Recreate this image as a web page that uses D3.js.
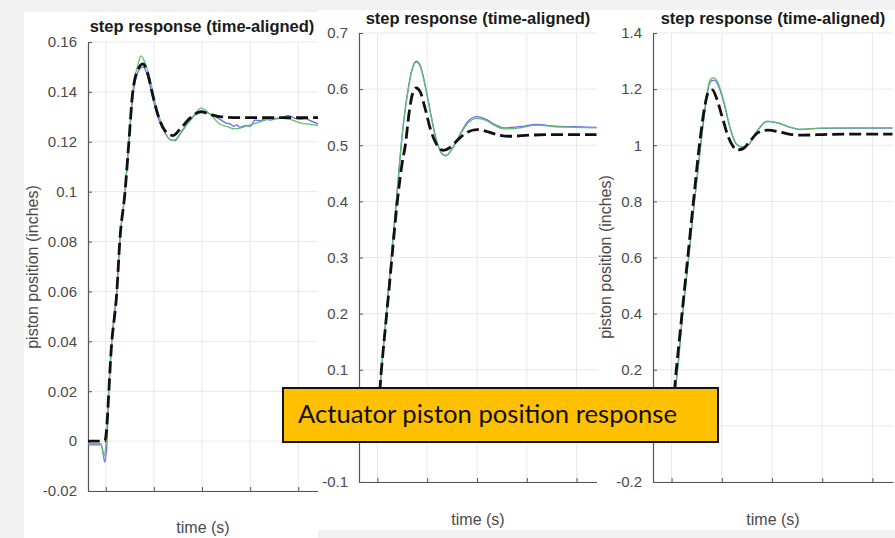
<!DOCTYPE html>
<html><head><meta charset="utf-8">
<script src="https://cdn.jsdelivr.net/npm/d3@7"></script>
<style>html,body{margin:0;padding:0;background:#f1f1f1;}svg{display:block;}</style>
</head><body>
<svg id="c" width="895" height="538"></svg>
<script>
// ---------- data ----------
const chartTitle = "step response (time-aligned)";
const xLabel = "time (s)";
const yLabel = "piston position (inches)";
const noteText = "Actuator piston position response";
const xTicks = [1, 2, 3, 4, 5];
const xTickLabels = ["", "", "", "", ""];
const xDomain = [0.63, 5.41];

const p1YTicks = [-0.02, 0, 0.02, 0.04, 0.06, 0.08, 0.1, 0.12, 0.14, 0.16];
const p1YTickLabels = ["-0.02", "0", "0.02", "0.04", "0.06", "0.08", "0.1", "0.12", "0.14", "0.16"];
const p2YTicks = [-0.1, 0, 0.1, 0.2, 0.3, 0.4, 0.5, 0.6, 0.7];
// the "0" label is hidden under the note box in the reference
const p2YTickLabels = ["-0.1", "", "0.1", "0.2", "0.3", "0.4", "0.5", "0.6", "0.7"];
const p3YTicks = [-0.2, 0, 0.2, 0.4, 0.6, 0.8, 1, 1.2, 1.4];
const p3YTickLabels = ["-0.2", "", "0.2", "0.4", "0.6", "0.8", "1", "1.2", "1.4"];

// [time, position]
const p1Blue = [[0.625,-0.0015],[0.90,-0.0015],[0.94,-0.004],[0.975,-0.0084],[1.02,-0.002],[1.06,0.02],[1.125,0.04],[1.17,0.05],[1.23,0.06],[1.29,0.08],[1.40,0.10],[1.48,0.12],[1.56,0.138],[1.67,0.148],[1.77,0.150],[1.875,0.146],[1.96,0.139],[2.08,0.130],[2.23,0.1235],[2.33,0.121],[2.44,0.1205],[2.54,0.123],[2.75,0.1285],[2.98,0.1325],[3.17,0.131],[3.40,0.1287],[3.50,0.1275],[3.58,0.1272],[3.66,0.1262],[3.72,0.1268],[3.79,0.1258],[3.90,0.1265],[4.0,0.1262],[4.10,0.1287],[4.21,0.1285],[4.31,0.1292],[4.42,0.1287],[4.52,0.1292],[4.65,0.1295],[4.79,0.1305],[4.92,0.1295],[5.04,0.129],[5.15,0.1292],[5.25,0.1285],[5.42,0.127]];
const p1Green = [[0.625,-0.001],[0.90,-0.001],[0.96,-0.006],[1.0,-0.002],[1.06,0.02],[1.125,0.04],[1.23,0.06],[1.29,0.08],[1.40,0.10],[1.48,0.12],[1.56,0.14],[1.67,0.151],[1.73,0.1544],[1.81,0.152],[1.92,0.145],[2.02,0.136],[2.125,0.129],[2.25,0.123],[2.375,0.1205],[2.46,0.121],[2.58,0.1245],[2.75,0.1285],[2.98,0.1335],[3.17,0.131],[3.375,0.127],[3.54,0.126],[3.66,0.1252],[3.79,0.1255],[3.96,0.1265],[4.21,0.128],[4.52,0.1295],[4.83,0.129],[5.06,0.1275],[5.25,0.127],[5.42,0.1265]];
const p1Black = [[0.625,0],[0.94,0],[0.98,0],[1.125,0.04],[1.23,0.06],[1.29,0.08],[1.40,0.10],[1.48,0.12],[1.56,0.14],[1.67,0.149],[1.77,0.1512],[1.875,0.147],[1.96,0.140],[2.08,0.131],[2.23,0.1245],[2.40,0.1225],[2.54,0.125],[2.75,0.1295],[2.98,0.132],[3.17,0.131],[3.40,0.130],[3.79,0.1297],[5.42,0.1297]];

const p2Blue = [[0.64,0],[0.98,0],[1.0,0.01],[1.10,0.12],[1.26,0.28],[1.38,0.40],[1.50,0.52],[1.62,0.602],[1.70,0.637],[1.78,0.650],[1.86,0.642],[1.96,0.607],[2.06,0.561],[2.18,0.511],[2.30,0.485],[2.38,0.482],[2.50,0.494],[2.66,0.520],[2.82,0.543],[3.00,0.551],[3.16,0.547],[3.36,0.537],[3.56,0.531],[3.86,0.533],[4.20,0.537],[4.56,0.534],[4.96,0.533],[5.40,0.532]];
const p2Green = [[0.64,0],[0.98,0],[1.0,0.01],[1.10,0.12],[1.26,0.28],[1.38,0.40],[1.50,0.52],[1.62,0.60],[1.70,0.635],[1.78,0.648],[1.86,0.64],[1.96,0.605],[2.06,0.56],[2.18,0.51],[2.30,0.484],[2.38,0.481],[2.50,0.493],[2.66,0.518],[2.82,0.540],[3.00,0.548],[3.16,0.545],[3.36,0.535],[3.56,0.529],[3.86,0.531],[4.20,0.536],[4.56,0.533],[4.96,0.532],[5.40,0.531]];
const p2Black = [[0.64,0],[0.96,0],[0.98,0],[1.08,0.10],[1.24,0.25],[1.40,0.40],[1.50,0.47],[1.56,0.50],[1.64,0.56],[1.70,0.59],[1.78,0.602],[1.86,0.595],[1.96,0.565],[2.06,0.53],[2.18,0.503],[2.32,0.491],[2.46,0.496],[2.62,0.510],[2.78,0.522],[3.00,0.528],[3.22,0.524],[3.44,0.518],[3.66,0.516],[4.06,0.518],[4.66,0.519],[5.40,0.519]];

const p3Blue = [[0.644,0],[0.98,0],[1.02,0.05],[1.12,0.2],[1.22,0.4],[1.34,0.6],[1.455,0.8],[1.58,1.0],[1.70,1.17],[1.75,1.217],[1.80,1.230],[1.85,1.232],[1.93,1.213],[2.05,1.145],[2.17,1.058],[2.29,1.004],[2.41,0.993],[2.525,1.00],[2.68,1.044],[2.90,1.084],[3.12,1.079],[3.36,1.064],[3.55,1.056],[3.95,1.060],[4.55,1.061],[5.40,1.061]];
const p3Green = [[0.644,0],[0.98,0],[1.02,0.05],[1.12,0.2],[1.22,0.4],[1.34,0.6],[1.455,0.8],[1.58,1.0],[1.70,1.18],[1.75,1.225],[1.80,1.238],[1.85,1.240],[1.93,1.22],[2.05,1.15],[2.17,1.06],[2.29,1.005],[2.41,0.994],[2.525,1.00],[2.68,1.045],[2.90,1.086],[3.12,1.08],[3.36,1.065],[3.55,1.057],[3.95,1.061],[4.55,1.062],[5.40,1.062]];
const p3Black = [[0.644,0],[0.96,0],[0.98,0],[1.094,0.2],[1.208,0.4],[1.322,0.6],[1.436,0.8],[1.554,1.0],[1.673,1.15],[1.733,1.19],[1.812,1.197],[1.891,1.17],[2.01,1.10],[2.129,1.03],[2.228,0.995],[2.307,0.983],[2.426,0.988],[2.564,1.015],[2.723,1.045],[2.921,1.054],[3.158,1.047],[3.396,1.038],[3.614,1.036],[4.149,1.039],[5.40,1.04]];

// ---------- layout ----------
const svg = d3.select("#c");
const FONT = "'Liberation Sans', Arial, Helvetica, sans-serif";
const COL_BLUE = "#6a6af5", COL_GREEN = "#62bd6a";

const panels = [
  {bg:[24,12,294,526], left:88, right:318, top:42, bottom:491, yDomain:[-0.02,0.16], yTicks:p1YTicks, yLabels:p1YTickLabels,
   series:[p1Blue,p1Green,p1Black], titleY:32, xLabY:533, yLabX:38, yLabY:267, showYLab:true},
  {bg:[318,10,279,520], left:359, right:597, top:33, bottom:482, yDomain:[-0.1,0.7], yTicks:p2YTicks, yLabels:p2YTickLabels,
   series:[p2Blue,p2Green,p2Black], titleY:24, xLabY:525, showYLab:false},
  {bg:[597,10,298,520], left:653, right:893, top:33, bottom:482, yDomain:[-0.2,1.4], yTicks:p3YTicks, yLabels:p3YTickLabels,
   series:[p3Blue,p3Green,p3Black], titleY:24, xLabY:525, yLabX:611, yLabY:257, showYLab:true}
];

panels.forEach((p, i) => {
  const g = svg.append("g");
  g.append("rect").attr("x", p.bg[0]).attr("y", p.bg[1]).attr("width", p.bg[2]).attr("height", p.bg[3]).attr("fill", "#ffffff");
  const x = d3.scaleLinear().domain(xDomain).range([p.left, p.right]);
  const y = d3.scaleLinear().domain(p.yDomain).range([p.bottom, p.top]);

  // grid
  g.append("g").selectAll("line").data(xTicks).join("line")
    .attr("x1", d => x(d)).attr("x2", d => x(d)).attr("y1", p.top).attr("y2", p.bottom)
    .attr("stroke", "#e8e8e8").attr("stroke-width", 1);
  g.append("g").selectAll("line").data(p.yTicks).join("line")
    .attr("x1", p.left).attr("x2", p.right).attr("y1", d => y(d)).attr("y2", d => y(d))
    .attr("stroke", "#e8e8e8").attr("stroke-width", 1);

  // axes (ticks inward, MATLAB style)
  const xAxis = d3.axisBottom(x).tickValues(xTicks).tickFormat((d, k) => xTickLabels[k]).tickSizeInner(-4).tickSizeOuter(0);
  const yAxis = d3.axisLeft(y).tickValues(p.yTicks).tickFormat((d, k) => p.yLabels[k]).tickSizeInner(-4).tickSizeOuter(0).tickPadding(11);
  const gx = g.append("g").attr("transform", `translate(0,${p.bottom})`).call(xAxis);
  const gy = g.append("g").attr("transform", `translate(${p.left},0)`).call(yAxis);
  [gx, gy].forEach(a => {
    a.select(".domain").attr("stroke", "#555").attr("stroke-width", 1.2);
    a.selectAll(".tick line").attr("stroke", "#555");
    a.selectAll(".tick text").attr("fill", "#4a4a4a").style("font-family", FONT).style("font-size", "15px");
  });

  // clip
  const cid = "clip" + i;
  g.append("clipPath").attr("id", cid).append("rect")
    .attr("x", p.left).attr("y", p.top - 2).attr("width", p.right - p.left).attr("height", p.bottom - p.top + 2);

  const line = d3.line().x(d => x(d[0])).y(d => y(d[1])).curve(d3.curveMonotoneX);
  const styles = [
    {stroke: COL_BLUE, w: 1.3, dash: null},
    {stroke: COL_GREEN, w: 1.3, dash: null},
    {stroke: "#111", w: 2.8, dash: "12,5"}
  ];
  const lg = g.append("g").attr("clip-path", `url(#${cid})`);
  p.series.forEach((s, k) => {
    lg.append("path").datum(s).attr("d", line).attr("fill", "none")
      .attr("stroke", styles[k].stroke).attr("stroke-width", styles[k].w)
      .attr("stroke-dasharray", styles[k].dash).attr("stroke-linejoin", "round");
  });

  // texts
  const cx = (p.left + p.right) / 2;
  g.append("text").attr("x", i === 0 ? 202 : cx).attr("y", p.titleY).attr("text-anchor", "middle")
    .style("font-family", FONT).style("font-size", "16.5px").style("font-weight", "bold").attr("fill", "#1a1a1a").text(chartTitle);
  g.append("text").attr("x", cx).attr("y", p.xLabY).attr("text-anchor", "middle")
    .style("font-family", FONT).style("font-size", "16px").attr("fill", "#4a4a4a").text(xLabel);
  if (p.showYLab) {
    g.append("text").attr("transform", `translate(${p.yLabX},${p.yLabY}) rotate(-90)`).attr("text-anchor", "middle")
      .style("font-family", FONT).style("font-size", "16px").attr("fill", "#4a4a4a").text(yLabel);
  }
});

// ---------- note box ----------
const box = svg.append("g");
box.append("rect").attr("x", 283).attr("y", 388).attr("width", 435).attr("height", 54)
  .attr("fill", "#ffc000").attr("stroke", "#111").attr("stroke-width", 2);
const nt = box.append("text").attr("x", 298).attr("y", 423)
  .style("font-family", "Lato, 'Open Sans', sans-serif").style("font-size", "26px").attr("fill", "#111").text(noteText);
const w = nt.node().getComputedTextLength();
nt.style("font-size", (26 * 379 / w).toFixed(2) + "px");
</script>
</body></html>
